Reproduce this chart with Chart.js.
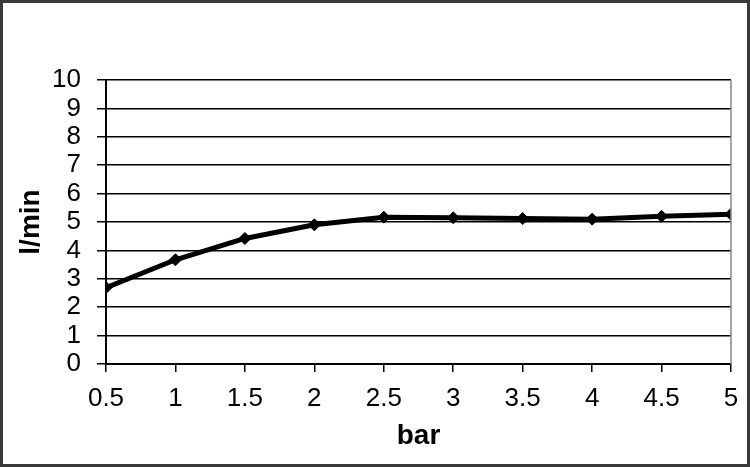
<!DOCTYPE html>
<html>
<head>
<meta charset="utf-8">
<script src="https://cdn.jsdelivr.net/npm/chart.js@4/dist/chart.umd.min.js"></script>
<style>
  html, body { margin: 0; padding: 0; background: #fff; }
  #wrap { width: 750px; height: 467px; position: relative; }
</style>
</head>
<body>
<div id="wrap"><canvas id="flowChart"></canvas></div>
<script>
// pressure (bar) vs flow (l/min)
const pressure = [0.5, 1, 1.5, 2, 2.5, 3, 3.5, 4, 4.5, 5];
const flow = [2.69, 3.67, 4.42, 4.9, 5.17, 5.15, 5.12, 5.1, 5.2, 5.27];
const xTitle = 'bar';
const yTitle = 'l/min';

// white background, grey right edge of plot, dark frame round the picture
const frame = {
    id: 'frame',
    beforeDraw(chart) {
        const c = chart.ctx;
        c.save();
        c.fillStyle = '#fff';
        c.fillRect(0, 0, chart.width, chart.height);
        c.restore();
    },
    afterDraw(chart) {
        const c = chart.ctx;
        const a = chart.chartArea;
        c.save();
        c.strokeStyle = '#888';
        c.lineWidth = 1.5;
        c.beginPath();
        c.moveTo(a.right, a.top);
        c.lineTo(a.right, a.bottom);
        c.stroke();
        c.strokeStyle = '#3a3a3a';
        c.lineWidth = 3;
        c.strokeRect(1.5, 1.5, chart.width - 3, chart.height - 3);
        c.restore();
    }
};

const ctx = document.getElementById('flowChart').getContext('2d');
new Chart(ctx, {
    type: 'line',
    data: {
        datasets: [{
            data: pressure.map((p, i) => ({ x: p, y: flow[i] })),
            borderColor: '#000',
            backgroundColor: '#000',
            borderWidth: 5,
            pointStyle: 'rectRot',
            pointRadius: 6,
            pointBorderWidth: 1,
            tension: 0
        }]
    },
    options: {
        responsive: true,
        maintainAspectRatio: false,
        animation: false,
        layout: { padding: { top: 80, right: 19, left: 0, bottom: 0 } },
        plugins: {
            legend: { display: false },
            tooltip: { enabled: false }
        },
        scales: {
            x: {
                type: 'linear',
                min: 0.5,
                max: 5,
                afterFit: s => { s.height = 103; },
                ticks: {
                    stepSize: 0.5,
                    autoSkip: false,
                    maxRotation: 0,
                    color: '#000',
                    padding: 11,
                    callback: v => String(v),
                    font: { family: "'Liberation Sans', Arial", size: 26 }
                },
                grid: { drawOnChartArea: false, color: '#000', tickLength: 8, lineWidth: 1.5 },
                border: { color: '#000', width: 2 },
                title: {
                    display: true,
                    text: xTitle,
                    color: '#000',
                    padding: { top: 0, bottom: 14 },
                    font: { family: "'Liberation Sans', Arial", size: 28, weight: 'bold' }
                }
            },
            y: {
                min: 0,
                max: 10,
                afterFit: s => { s.width = 106; },
                ticks: {
                    stepSize: 1,
                    autoSkip: false,
                    color: '#000',
                    padding: 16,
                    font: { family: "'Liberation Sans', Arial", size: 26 }
                },
                grid: { color: '#000', tickLength: 9, lineWidth: 1.5 },
                border: { color: '#000', width: 2 },
                title: {
                    display: true,
                    text: yTitle,
                    color: '#000',
                    padding: { top: 14, bottom: 0 },
                    font: { family: "'Liberation Sans', Arial", size: 28, weight: 'bold' }
                }
            }
        }
    },
    plugins: [frame]
});
</script>
</body>
</html>
